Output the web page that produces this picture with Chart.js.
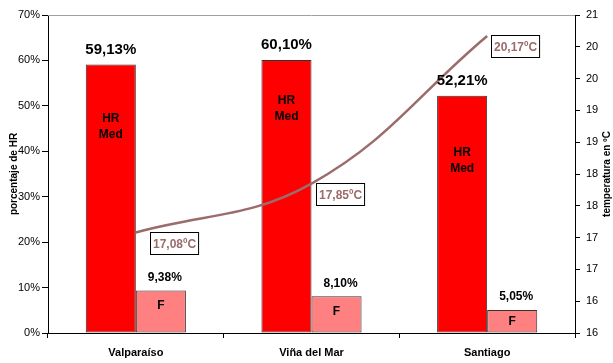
<!DOCTYPE html>
<html>
<head>
<meta charset="utf-8">
<script src="https://cdn.jsdelivr.net/npm/chart.js@4"></script>
<style>
  html, body { margin: 0; padding: 0; background: #ffffff; }
  canvas { display: block; }
</style>
</head>
<body>
<canvas id="c" width="613" height="363"></canvas>
<script>
const categories = ['Valparaíso', 'Viña del Mar', 'Santiago'];
const hrMed = [59.13, 60.10, 52.21];
const hrF = [9.38, 8.10, 5.05];
const temperatures = [17.08, 17.85, 20.17];
const hrLabel = ['HR', 'Med'];
const fLabel = 'F';

const LINE_COLOR = '#9c6b6b';
const FONT = '"Liberation Sans", Arial, sans-serif';

function fmt(v) { return v.toFixed(2).replace('.', ','); }

const labelPlugin = {
  id: 'labels',
  beforeDatasetsDraw(chart) {
    const ctx = chart.ctx, a = chart.chartArea;
    ctx.save();
    ctx.strokeStyle = '#a0a0a0';
    ctx.lineWidth = 1;
    ctx.beginPath();
    ctx.moveTo(a.left, Math.round(a.top) + 0.5);
    ctx.lineTo(a.right, Math.round(a.top) + 0.5);
    ctx.stroke();
    ctx.restore();
  },
  afterDatasetsDraw(chart) {
    const ctx = chart.ctx;
    ctx.save();
    ctx.textAlign = 'center';
    ctx.textBaseline = 'middle';
    ctx.fillStyle = '#000';
    // HR Med bars
    const m0 = chart.getDatasetMeta(0);
    const hrOffsets = [54, 41, 57];
    m0.data.forEach((bar, i) => {
      ctx.font = 'bold 15px ' + FONT;
      ctx.fillText(fmt(hrMed[i]) + '%', bar.x, bar.y - 15);
      ctx.font = 'bold 12px ' + FONT;
      ctx.fillText(hrLabel[0], bar.x, bar.y + hrOffsets[i]);
      ctx.fillText(hrLabel[1], bar.x, bar.y + hrOffsets[i] + 16);
    });
    // F bars
    const m1 = chart.getDatasetMeta(1);
    m1.data.forEach((bar, i) => {
      ctx.font = 'bold 12px ' + FONT;
      ctx.fillText(fmt(hrF[i]) + '%', bar.x + 4, bar.y - 13);
      const h = bar.base - bar.y;
      ctx.fillText(fLabel, bar.x, bar.y + Math.min(h / 2, 15));
    });
    // Temperature labels
    const m2 = chart.getDatasetMeta(2);
    const dx = [14, 4, 4];
    m2.data.forEach((pt, i) => {
      const txt = fmt(temperatures[i]) + 'ºC';
      ctx.font = 'bold 12px ' + FONT;
      const w = ctx.measureText(txt).width + 5;
      const h = 22;
      const x0 = Math.round(pt.x + dx[i]) + 0.5;
      const y0 = Math.round(pt.y - 1) + 0.5;
      ctx.fillStyle = '#fff';
      ctx.fillRect(x0, y0, w, h);
      ctx.strokeStyle = '#000';
      ctx.lineWidth = 1;
      ctx.strokeRect(x0, y0, w, h);
      ctx.fillStyle = LINE_COLOR;
      ctx.textAlign = 'center';
      ctx.fillText(txt, x0 + w / 2, y0 + h / 2 + 1);
    });
    // right axis title
    const y1 = chart.scales.y1;
    ctx.fillStyle = '#000';
    ctx.font = 'bold 10px ' + FONT;
    ctx.translate(607, (y1.top + y1.bottom) / 2);
    ctx.rotate(-Math.PI / 2);
    ctx.fillText('temperatura en ºC', 0, 0);
    ctx.restore();
  }
};

new Chart(document.getElementById('c'), {
  data: {
    labels: categories,
    datasets: [
      {
        type: 'bar', label: 'HR Med', data: hrMed, yAxisID: 'y',
        backgroundColor: '#ff0000', borderColor: '#333333', borderWidth: 1, borderSkipped: false,
        categoryPercentage: 0.57, barPercentage: 1, order: 2
      },
      {
        type: 'bar', label: 'F', data: hrF, yAxisID: 'y',
        backgroundColor: '#ff8080', borderColor: '#333333', borderWidth: 1, borderSkipped: false,
        categoryPercentage: 0.57, barPercentage: 1, order: 2
      },
      {
        type: 'line', label: 'Temperatura', data: temperatures, yAxisID: 'y1',
        borderColor: LINE_COLOR, borderWidth: 2.5, pointRadius: 0,
        tension: 0.4, fill: false, order: 1
      }
    ]
  },
  options: {
    responsive: false,
    animation: false,
    layout: { padding: { top: 15, left: 0, right: 0, bottom: 0 } },
    plugins: { legend: { display: false }, tooltip: { enabled: false } },
    scales: {
      x: {
        offset: true,
        grid: { offset: true, drawOnChartArea: false, tickLength: 5, color: '#000', tickColor: '#000' },
        border: { color: '#000', width: 1 },
        ticks: { color: '#000', font: { family: FONT, size: 11, weight: 'bold' }, padding: 8, maxRotation: 0 },
        afterFit(s) { s.height = 30; }
      },
      y: {
        position: 'left', min: 0, max: 70,
        ticks: { stepSize: 10, color: '#000', font: { family: FONT, size: 11 }, padding: 2, callback: v => v + '%' },
        grid: { drawOnChartArea: false, tickLength: 6, tickColor: '#000' },
        border: { color: '#000', width: 1 },
        title: { display: true, text: 'porcentaje de HR', color: '#000', font: { family: FONT, size: 10, weight: 'bold' }, padding: { top: 8, bottom: 0 } },
        afterFit(s) { s.width = 48; }
      },
      y1: {
        position: 'right', min: 15.5, max: 20.5,
        ticks: { stepSize: 0.5, color: '#000', font: { family: FONT, size: 11 }, padding: 6, callback: v => String(Math.round(v)) },
        grid: { drawOnChartArea: false, tickLength: 5, tickColor: '#000' },
        border: { color: '#000', width: 1 },
        afterFit(s) { s.width = 38; }
      }
    }
  },
  plugins: [labelPlugin]
});
</script>
</body>
</html>
